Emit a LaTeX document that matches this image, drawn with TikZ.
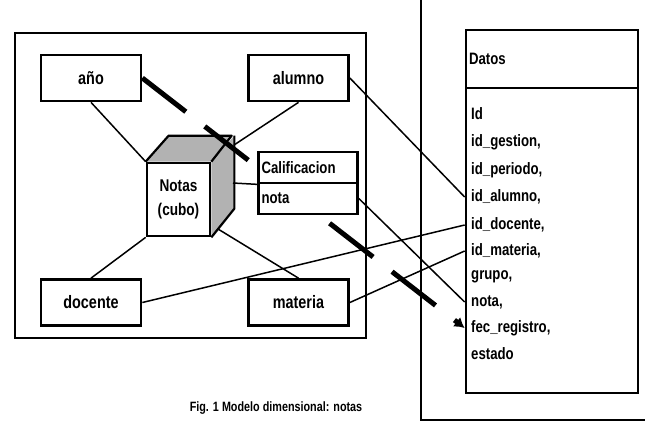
\documentclass[tikz,border=0pt]{standalone}
\usepackage{fontspec}
\setmainfont{Liberation Sans}[FakeStretch=0.8]
\usetikzlibrary{arrows.meta}
\begin{document}
\begin{tikzpicture}[x=1pt,y=-1pt,
  every node/.style={font=\fontsize{16.5}{18}\selectfont\bfseries},
  box/.style={draw, line width=2.7pt, fill=white, inner sep=0pt},
  dimbox/.style={box, minimum width=100pt, minimum height=46pt, font=\fontsize{18}{20}\selectfont\bfseries},
  rowbox/.style={box, minimum height=31pt, text width=93pt, inner xsep=3pt, align=left},
  field/.style={anchor=west, inner sep=0pt},
  link/.style={line width=1.5pt},
  heavy/.style={line width=5pt, dash pattern=on 55pt off 24pt, -{Latex[length=10pt,width=12pt]}}
]
\useasboundingbox (0,0) rectangle (645,424);

% enclosing frame of the dimensional model
\node[box, fill=none, minimum width=351pt, minimum height=305pt] (frame) at (190.5,185.5) {};

% right panel border
\coordinate (ptop) at (421,0);
\coordinate (pcorner) at (421,420);
\coordinate (pend) at (645,420);
\draw[line width=2.7pt] (ptop) -- (pcorner) -- (pend);

% dimension boxes
\node[dimbox] (anio) at (91,78) {año};
\node[dimbox] (alumno) at (298.5,78) {alumno};
\node[dimbox] (docente) at (91,302.5) {docente};
\node[dimbox] (materia) at (298.5,302.5) {materia};

% cube: front face with shaded top and side
\node[draw, line width=2.7pt, fill=white, minimum width=63pt, minimum height=73pt,
      align=center, inner sep=0pt, font=\fontsize{17}{19}\selectfont\bfseries] (cube) at (178.5,199.5) {Notas\\[5pt](cubo)};
\fill[gray!60] (cube.north west) -- ++(23,-26) -- ++(63,0) -- (cube.north east) -- cycle;
\fill[gray!60] (cube.north east) -- ++(23,-26) -- ++(0,73) -- (cube.south east) -- cycle;
\draw[line width=2.2pt, line join=round] (cube.north west) -- ++(23,-26) -- ++(63,0) -- (cube.north east);
\draw[line width=2.2pt, line join=round] (cube.north east) ++(23,-26) -- ++(0,73) -- (cube.south east);
\coordinate (cubeback) at (234,145);
\coordinate (cubeside) at (233,183);
\coordinate (cubefoot) at (218,229);

% links between dimensions and cube
\draw[link] (anio.south) -- (cube.north west);
\draw[link] (alumno.south) -- (cubeback);
\draw[link] (docente.north) -- (cube.south west);
\draw[link] (cubefoot) -- (materia.north);

% fact table
\node[box, minimum width=172pt, minimum height=58pt, text width=166pt, align=left] (thead) at (552,59) {Datos};
\node[box, minimum width=172pt, minimum height=305pt] (tbody) at (552,240.5) {};
\node[field] (fid) at (471,114) {Id};
\node[field] (fge) at (471,142) {id\_gestion,};
\node[field] (fpe) at (471,170) {id\_periodo,};
\node[field] (fal) at (471,197) {id\_alumno,};
\node[field] (fdo) at (471,225) {id\_docente,};
\node[field] (fma) at (471,251) {id\_materia,};
\node[field] (fgr) at (471,277) {grupo,};
\node[field] (fno) at (471,302) {nota,};
\node[field] (ffe) at (471,328) {fec\_registro,};
\node[field] (fes) at (471,354) {estado};

% derivation of the year from the registration date
\draw[heavy] (anio.east) -- (tbody.west |- ffe);

% measure of the cube
\node[rowbox] (calif) at (308,167.5) {Calificacion};
\node[rowbox] (calnota) at (308,198.5) {nota};
\draw[link] (cubeside) -- (calif.south west);

% keys of the fact table
\draw[link] (alumno.east) -- (tbody.west |- fal);
\draw[link] (docente.east) -- (tbody.west |- fdo);
\draw[link] (materia.east) -- (tbody.west |- fma);
\draw[link] (calnota.east) -- (tbody.west |- fno);

% caption
\node[font=\fontsize{13.5}{15}\selectfont\bfseries] (caption) at (276,408) {Fig. 1 Modelo dimensional: notas};
\end{tikzpicture}
\end{document}
